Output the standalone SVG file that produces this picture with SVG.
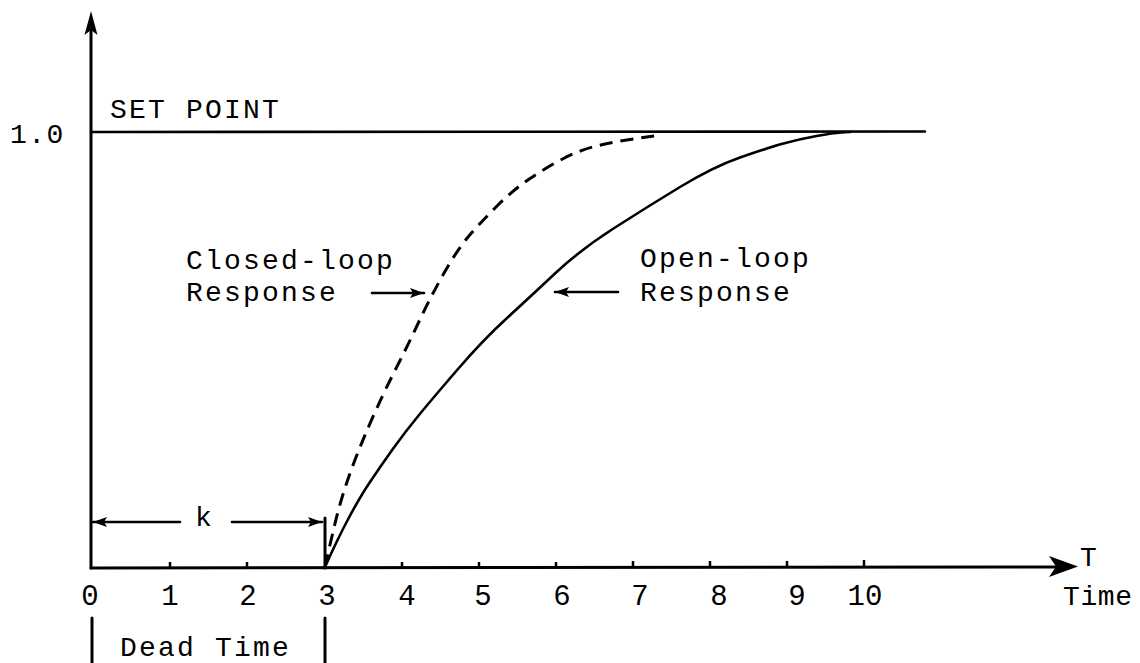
<svg xmlns="http://www.w3.org/2000/svg" width="1140" height="663" viewBox="0 0 1140 663">
<style>
  .t { font-family: "Liberation Mono", "Courier New", monospace; font-size: 28px; fill: #000; letter-spacing: 2.2px; }
  .d { font-family: "Liberation Mono", "Courier New", monospace; font-size: 29px; fill: #000; text-anchor: middle; }
  .ax { stroke: #000; stroke-width: 3; fill: none; stroke-linecap: round; }
  .ln { stroke: #000; stroke-width: 2.6; fill: none; stroke-linecap: round; stroke-linejoin: round; }
  .dash { stroke: #000; stroke-width: 3; fill: none; stroke-dasharray: 13 8; }
  .tick { stroke: #000; stroke-width: 2.5; }
</style>
<defs>
  <marker id="ah" markerUnits="userSpaceOnUse" markerWidth="16" markerHeight="12" refX="14" refY="6" orient="auto">
    <path d="M0,1 L14,6 L0,11 L3,6 Z" fill="#000"/>
  </marker>
</defs>
<rect width="1140" height="663" fill="#fff"/>

<g id="axes">
  <line class="ax" x1="91" y1="568" x2="91" y2="24"/>
  <path d="M91,11 L97.5,35 L91,30 L84.5,35 Z" fill="#000"/>
  <line class="ax" x1="91" y1="568" x2="1062" y2="567"/>
  <path d="M1078,566.5 L1049,556 L1056,566.5 L1049,577 Z" fill="#000"/>
  <g class="tick">
    <line x1="170" y1="568" x2="170" y2="562"/>
    <line x1="247" y1="568" x2="247" y2="562"/>
    <line x1="402" y1="568" x2="402" y2="562"/>
    <line x1="479" y1="568" x2="479" y2="562"/>
    <line x1="556" y1="568" x2="556" y2="562"/>
    <line x1="633" y1="568" x2="633" y2="561"/>
    <line x1="710" y1="568" x2="710" y2="561"/>
    <line x1="787" y1="568" x2="787" y2="561"/>
    <line x1="864" y1="567" x2="864" y2="560"/>
  </g>
</g>

<g id="axis-labels">
  <text class="d" x="90" y="605">0</text>
  <text class="d" x="170" y="605">1</text>
  <text class="d" x="248" y="605">2</text>
  <text class="d" x="327" y="605">3</text>
  <text class="d" x="407" y="605">4</text>
  <text class="d" x="483" y="605">5</text>
  <text class="d" x="562" y="605">6</text>
  <text class="d" x="640" y="605">7</text>
  <text class="d" x="719" y="605">8</text>
  <text class="d" x="797" y="605">9</text>
  <text class="d" x="865" y="605">10</text>
  <text class="t" x="1080" y="566">T</text>
  <text class="t" x="1063" y="605" style="letter-spacing:0.6px">Time</text>
  <text class="t" x="10" y="143" style="letter-spacing:1.5px">1.0</text>
</g>

<g id="set-point">
  <line class="ln" x1="91" y1="132" x2="925" y2="131.5"/>
  <text class="t" x="110" y="118">SET POINT</text>
</g>

<g id="closed-loop">
  <path class="dash" d="M325,567 Q331,540 335.5,521.5 Q340,503 346,485 Q352,467 359.5,448.5 Q367,430 376,410 Q385,390 396.5,367.5 Q408,345 419,321.5 Q430,298 443.5,274 Q457,250 468.5,236.5 Q480,223 496.5,206.5 Q513,190 530,178.5 Q547,167 563.5,158.5 Q580,150 596.5,146 Q613,142 630,139.5 Q647,137 654.5,136 L662,135"/>
  <text class="t" x="186" y="269">Closed-loop</text>
  <text class="t" x="186" y="301">Response</text>
</g>

<g id="open-loop">
  <path class="ln" d="M325,567 Q338,538 349,517.5 Q360,497 369,483.5 Q380,467 392.5,449.5 Q405,432 419,415 Q433,398 458,369 Q483,340 506.5,318.5 Q530,297 555,273.5 Q580,250 613.5,228.5 Q647,207 680,187 Q713,167 740,157.5 Q767,148 783.5,143.5 Q800,139 816.5,136 Q833,133 841.5,132.5 L850,132"/>
  <text class="t" x="640" y="267">Open-loop</text>
  <text class="t" x="640" y="301">Response</text>
</g>

<g id="dead-time">
  <line class="ax" x1="325" y1="518" x2="325" y2="568"/>
  <text class="t" x="195" y="526">k</text>
  <line class="ax" x1="92" y1="618" x2="92" y2="663"/>
  <line class="ax" x1="325" y1="618" x2="325" y2="663"/>
  <text class="t" x="120" y="656">Dead Time</text>
</g>

<g id="connectors">
  <line class="ln" x1="180" y1="522" x2="93" y2="522" marker-end="url(#ah)"/>
  <line class="ln" x1="232" y1="522" x2="322" y2="522" marker-end="url(#ah)"/>
  <line class="ln" x1="372" y1="293" x2="424" y2="293" marker-end="url(#ah)"/>
  <line class="ln" x1="618" y1="292" x2="555" y2="292" marker-end="url(#ah)"/>
</g>
</svg>
